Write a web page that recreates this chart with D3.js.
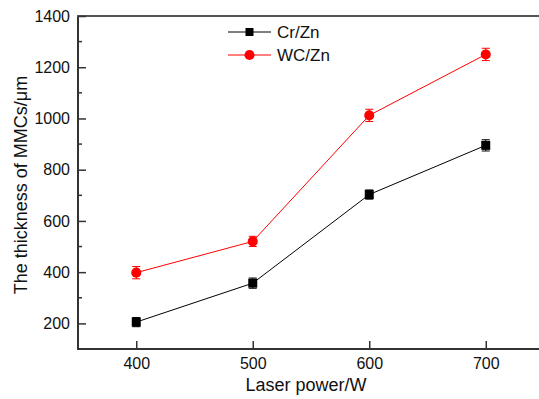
<!DOCTYPE html>
<html>
<head>
<meta charset="utf-8">
<script src="https://cdn.jsdelivr.net/npm/d3@7"></script>
<style>
  html, body { margin: 0; padding: 0; background: #fff; }
  svg { display: block; font-family: "Liberation Sans", Arial, sans-serif; }
</style>
</head>
<body>
<svg id="chart" width="539" height="399"></svg>
<script>
// Laser power settings (W)
const powers = [400, 500, 600, 700];
// Coating thickness (μm) and error half-widths
const crZn = [205, 357, 703, 895];
const crZnErr = [18, 20, 18, 22];
const wcZn = [398, 520, 1012, 1250];
const wcZnErr = [24, 20, 24, 24];
const yTicks = [200, 400, 600, 800, 1000, 1200, 1400];
const xTicks = [400, 500, 600, 700];

const svg = d3.select("#chart");
const plotL = 78, plotR = 544, plotT = 16, plotB = 349;

const x = d3.scaleLinear().domain([350, 750]).range([plotL, plotR]);
const y = d3.scaleLinear().domain([100, 1400]).range([plotB, plotT]);

const axisColor = "#333";

// Frame lines: left, bottom, top
const g = svg.append("g");
g.append("line").attr("x1", plotL).attr("x2", plotL).attr("y1", plotT - 1).attr("y2", plotB + 1)
  .attr("stroke", axisColor).attr("stroke-width", 2);
g.append("line").attr("x1", plotL - 1).attr("x2", 539).attr("y1", plotB).attr("y2", plotB)
  .attr("stroke", axisColor).attr("stroke-width", 2);
g.append("line").attr("x1", plotL - 1).attr("x2", 539).attr("y1", plotT).attr("y2", plotT)
  .attr("stroke", "#555").attr("stroke-width", 2);

// Y axis with inward ticks
const yAxis = d3.axisLeft(y).tickValues(yTicks).tickSize(-8).tickPadding(8).tickFormat(d3.format("d"));
const yg = svg.append("g").attr("transform", `translate(${plotL},0)`).call(yAxis);
yg.select(".domain").remove();
yg.selectAll(".tick line").attr("stroke", axisColor).attr("stroke-width", 1.5);
yg.selectAll(".tick text").attr("font-size", 16).attr("fill", "#111")
  .attr("font-family", "Liberation Sans, Arial, sans-serif");
// Y minor ticks
const yMinor = d3.range(300, 1400, 200);
svg.append("g").selectAll("line").data(yMinor).join("line")
  .attr("x1", plotL).attr("x2", plotL + 4)
  .attr("y1", d => y(d)).attr("y2", d => y(d))
  .attr("stroke", axisColor).attr("stroke-width", 1.5);

// X axis with inward ticks
const xAxis = d3.axisBottom(x).tickValues(xTicks).tickSize(-8).tickPadding(9).tickFormat(d3.format("d"));
const xg = svg.append("g").attr("transform", `translate(0,${plotB})`).call(xAxis);
xg.select(".domain").remove();
xg.selectAll(".tick line").attr("stroke", axisColor).attr("stroke-width", 1.5);
xg.selectAll(".tick text").attr("font-size", 16).attr("fill", "#111")
  .attr("font-family", "Liberation Sans, Arial, sans-serif");

// Axis titles
svg.append("text").attr("x", 306).attr("y", 391)
  .attr("text-anchor", "middle").attr("font-size", 18).attr("fill", "#111")
  .text("Laser power/W");
svg.append("text").attr("transform", "translate(27,185) rotate(-90)")
  .attr("text-anchor", "middle").attr("font-size", 18).attr("fill", "#111")
  .text("The thickness of MMCs/μm");

function drawSeries(vals, errs, color, shape) {
  const pts = powers.map((p, i) => ({ p, v: vals[i], e: errs[i] }));
  const line = d3.line().x(d => x(d.p)).y(d => y(d.v));
  svg.append("path").datum(pts).attr("d", line)
    .attr("fill", "none").attr("stroke", color).attr("stroke-width", 1);
  const eg = svg.append("g").attr("stroke", color).attr("stroke-width", 1);
  pts.forEach(d => {
    eg.append("line").attr("x1", x(d.p)).attr("x2", x(d.p))
      .attr("y1", y(d.v - d.e)).attr("y2", y(d.v + d.e));
    [d.v - d.e, d.v + d.e].forEach(v => {
      eg.append("line").attr("x1", x(d.p) - 4).attr("x2", x(d.p) + 4)
        .attr("y1", y(v)).attr("y2", y(v));
    });
  });
  const sym = shape === "square"
    ? d3.symbol().type(d3.symbolSquare).size(81)
    : d3.symbol().type(d3.symbolCircle).size(80);
  svg.append("g").selectAll("path").data(pts).join("path")
    .attr("transform", d => `translate(${x(d.p)},${y(d.v)})`)
    .attr("d", sym).attr("fill", color);
}

drawSeries(crZn, crZnErr, "#000", "square");
drawSeries(wcZn, wcZnErr, "#ff0000", "circle");

// Legend
const legend = [
  { name: "Cr/Zn", color: "#000", shape: "square", y: 32 },
  { name: "WC/Zn", color: "#ff0000", shape: "circle", y: 55 }
];
legend.forEach(l => {
  svg.append("line").attr("x1", 228).attr("x2", 271).attr("y1", l.y).attr("y2", l.y)
    .attr("stroke", l.color).attr("stroke-width", 1);
  const sym = l.shape === "square"
    ? d3.symbol().type(d3.symbolSquare).size(64)
    : d3.symbol().type(d3.symbolCircle).size(80);
  svg.append("path").attr("transform", `translate(249.5,${l.y})`).attr("d", sym).attr("fill", l.color);
  svg.append("text").attr("x", 277).attr("y", l.y + 6).attr("font-size", 17).attr("fill", "#111")
    .text(l.name);
});
</script>
</body>
</html>
